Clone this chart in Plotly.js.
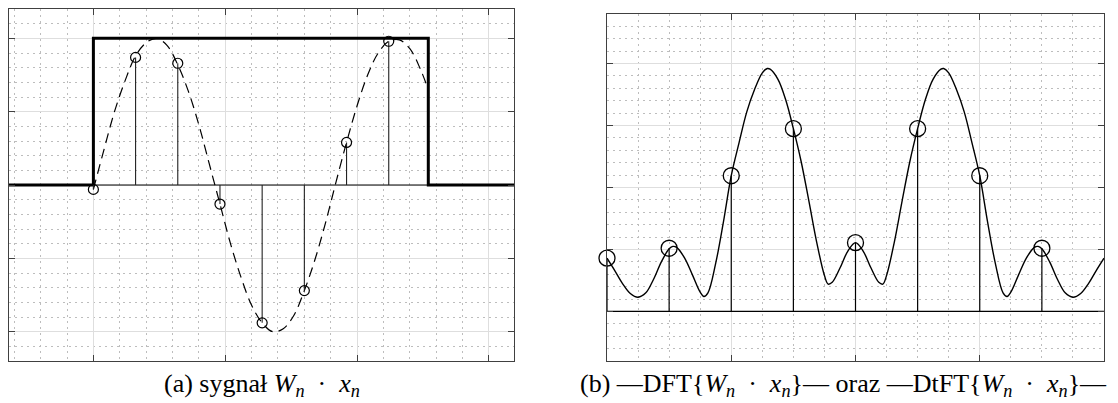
<!DOCTYPE html>
<html><head><meta charset="utf-8">
<script src="https://cdn.plot.ly/plotly-3.0.1.min.js"></script>
<style>html,body{margin:0;padding:0;background:#fff}#chart{width:1118px;height:403px}</style>
</head><body><div id="chart"></div>
<script>
// ---------- panel (a): windowed signal ----------
const sampleTimes  = [0, 0.32, 0.64, 0.96, 1.28, 1.60, 1.92, 2.24];
const sampleValues = [-0.03, 0.87, 0.83, -0.13, -0.94, -0.72, 0.29, 0.98];
const windowStart = 0, windowEnd = 2.54, windowHeight = 1;
const sineTimes  = [0, 0.08, 0.16, 0.24, 0.32, 0.40, 0.48, 0.56, 0.64, 0.72, 0.80, 0.88, 0.96, 1.04, 1.12, 1.20, 1.28, 1.36, 1.44, 1.52, 1.60, 1.68, 1.76, 1.84, 1.92, 2.00, 2.08, 2.16, 2.24, 2.32, 2.40, 2.48, 2.54];
const sineValues = [-0.03, 0.24, 0.50, 0.71, 0.88, 0.97, 1.00, 0.95, 0.82, 0.64, 0.41, 0.14, -0.13, -0.40, -0.63, -0.82, -0.94, -1.00, -0.98, -0.89, -0.72, -0.51, -0.26, 0.02, 0.29, 0.54, 0.75, 0.90, 0.98, 0.99, 0.93, 0.79, 0.65];

// ---------- panel (b): DFT and DtFT ----------
const dftBins   = [0, 1, 2, 3, 4, 5, 6, 7];
const dftValues = [0.86, 1.02, 2.19, 2.95, 1.11, 2.95, 2.19, 1.02];
const dtftFreq  = [0, 0.125, 0.25, 0.375, 0.5, 0.625, 0.75, 0.875, 1.0, 1.06, 1.125, 1.25, 1.375, 1.5, 1.56, 1.625, 1.75, 1.875, 2.0, 2.125, 2.25, 2.375, 2.5, 2.58, 2.625, 2.75, 2.875, 3.0, 3.125, 3.25, 3.375, 3.5, 3.56, 3.625, 3.75, 3.875, 4.0,
                   4.125, 4.25, 4.375, 4.44, 4.5, 4.625, 4.75, 4.875, 5.0, 5.125, 5.25, 5.375, 5.42, 5.5, 5.625, 5.75, 5.875, 6.0, 6.125, 6.25, 6.375, 6.44, 6.5, 6.625, 6.75, 6.875, 6.94, 7.0, 7.125, 7.25, 7.375, 7.5, 7.625, 7.75, 7.875, 8.0];
const dtftValues = [0.86, 0.66, 0.45, 0.29, 0.23, 0.30, 0.52, 0.80, 1.01, 1.05, 1.03, 0.86, 0.59, 0.31, 0.24, 0.30, 0.78, 1.45, 2.19, 2.72, 3.22, 3.58, 3.85, 3.92, 3.91, 3.75, 3.42, 2.95, 2.42, 1.78, 1.12, 0.58, 0.44, 0.47, 0.70, 0.97, 1.11,
                    0.97, 0.70, 0.47, 0.44, 0.58, 1.12, 1.78, 2.42, 2.95, 3.42, 3.75, 3.91, 3.92, 3.85, 3.58, 3.22, 2.72, 2.19, 1.45, 0.78, 0.30, 0.24, 0.31, 0.59, 0.86, 1.03, 1.05, 1.01, 0.80, 0.52, 0.30, 0.23, 0.29, 0.45, 0.66, 0.86];

const captionA = '(a) sygnał <i>W</i><sub><i>n</i></sub>\u2002·\u2002<i>x</i><sub><i>n</i></sub>';
const captionB = '(b) —DFT{<i>W</i><sub><i>n</i></sub>\u2002·\u2002<i>x</i><sub><i>n</i></sub>}— oraz —DtFT{<i>W</i><sub><i>n</i></sub>\u2002·\u2002<i>x</i><sub><i>n</i></sub>}—';

// ---------- build ----------
const xRangeA = [-0.64, 3.19], yRangeA = [-1.2, 1.2];
const xRangeB = [0, 8], yRangeB = [-0.8, 4.8];

function stems(xs, ys) {
  const sx = [], sy = [];
  xs.forEach((x, i) => { sx.push(x, x, null); sy.push(0, ys[i], null); });
  return {x: sx, y: sy};
}
const stA = stems(sampleTimes, sampleValues);
const stB = stems(dftBins, dftValues);

const traces = [
  // panel a
  {x: [windowStart, windowEnd], y: [0, 0], xaxis: 'x', yaxis: 'y', mode: 'lines', line: {color: '#000', width: 1}, hoverinfo: 'skip'},
  {x: sineTimes, y: sineValues, xaxis: 'x', yaxis: 'y', mode: 'lines', line: {color: '#000', width: 1.2, dash: '10px,6px', shape: 'spline'}, hoverinfo: 'skip'},
  {x: [xRangeA[0], windowStart, windowStart, windowEnd, windowEnd, xRangeA[1]], y: [0, 0, windowHeight, windowHeight, 0, 0], xaxis: 'x', yaxis: 'y', mode: 'lines', line: {color: '#000', width: 3}, hoverinfo: 'skip'},
  {x: stA.x, y: stA.y, xaxis: 'x', yaxis: 'y', mode: 'lines', line: {color: '#222', width: 1.1}, hoverinfo: 'skip'},
  {x: sampleTimes, y: sampleValues, xaxis: 'x', yaxis: 'y', mode: 'markers', cliponaxis: false, marker: {symbol: 'circle-open', size: 10, color: '#000', line: {width: 1.2, color: '#000'}}},
  // panel b
  {x: xRangeB, y: [0, 0], xaxis: 'x2', yaxis: 'y2', mode: 'lines', line: {color: '#000', width: 1.3}, hoverinfo: 'skip'},
  {x: dtftFreq, y: dtftValues, xaxis: 'x2', yaxis: 'y2', mode: 'lines', line: {color: '#000', width: 1.4, shape: 'spline'}, hoverinfo: 'skip'},
  {x: stB.x, y: stB.y, xaxis: 'x2', yaxis: 'y2', mode: 'lines', line: {color: '#000', width: 1.2}, hoverinfo: 'skip'},
  {x: dftBins, y: dftValues, xaxis: 'x2', yaxis: 'y2', mode: 'markers', cliponaxis: false, marker: {symbol: 'circle-open', size: 16, color: '#000', line: {width: 1.3, color: '#000'}}}
];

const W = 1118, H = 403;
function ax(range, dtick, minorDtick, domain, anchor) {
  return {
    range: range, domain: domain, anchor: anchor, tickmode: 'linear', tick0: 0, dtick: dtick,
    showticklabels: false, ticks: 'inside', ticklen: 6, tickwidth: 1, tickcolor: '#404040',
    showline: true, linecolor: '#404040', linewidth: 1, mirror: 'ticks',
    showgrid: true, gridcolor: '#dedede', gridwidth: 1, zeroline: false, fixedrange: true,
    minor: {dtick: minorDtick, showgrid: true, gridcolor: '#bdbdbd', griddash: '2px,4px', gridwidth: 1, ticks: ''}
  };
}
const capFont = {family: 'Liberation Serif, Times New Roman, serif', size: 26, color: '#000'};
const layout = {
  width: W, height: H, margin: {l: 0, r: 0, t: 0, b: 0},
  paper_bgcolor: '#fff', plot_bgcolor: '#fff', showlegend: false,
  xaxis:  ax(xRangeA, 1, 0.2, [9 / W, 514 / W], 'y'),
  yaxis:  ax(yRangeA, 0.5, 0.1, [1 - 361 / H, 1 - 9 / H], 'x'),
  xaxis2: ax(xRangeB, 2, 0.5, [607 / W, 1104 / W], 'y2'),
  yaxis2: ax(yRangeB, 1, 0.2, [1 - 361 / H, 1 - 14 / H], 'x2'),
  annotations: [
    {text: captionA, xref: 'paper', yref: 'paper', x: 262 / W, y: 1 - 385 / H, showarrow: false, xanchor: 'center', yanchor: 'middle', font: capFont},
    {text: captionB, xref: 'paper', yref: 'paper', x: 843 / W, y: 1 - 385 / H, showarrow: false, xanchor: 'center', yanchor: 'middle', font: capFont}
  ]
};
Plotly.newPlot('chart', traces, layout, {staticPlot: true, displayModeBar: false});
</script></body></html>
